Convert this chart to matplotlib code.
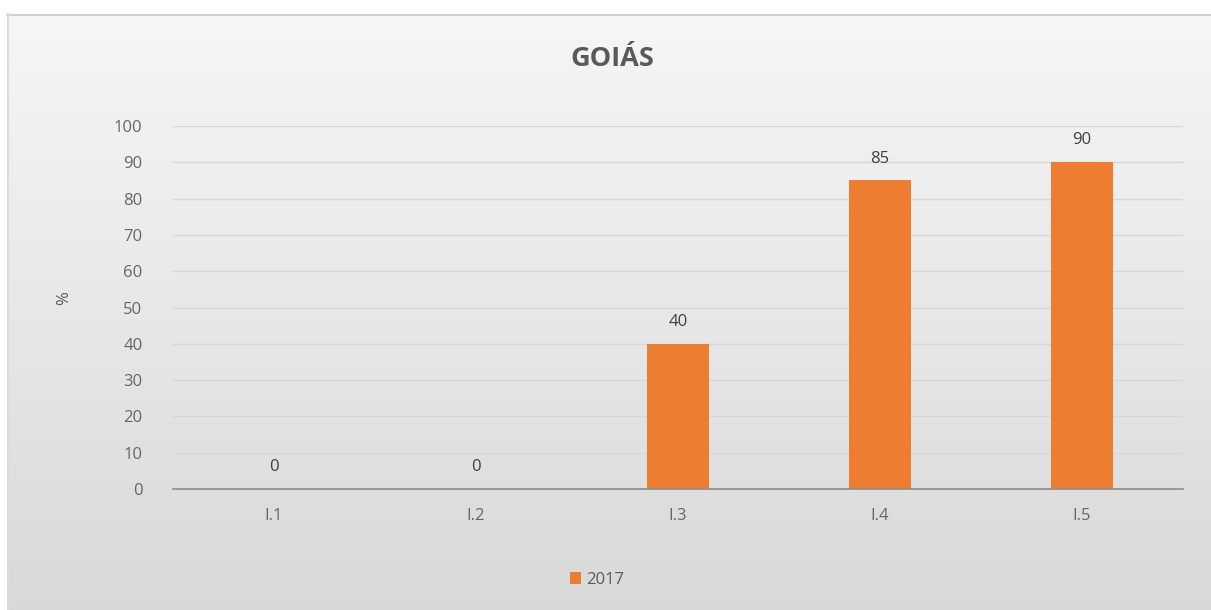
import numpy as np
import matplotlib
matplotlib.use("Agg")
import matplotlib.pyplot as plt
from matplotlib.patches import Patch

categories = ["I.1", "I.2", "I.3", "I.4", "I.5"]
values_2017 = [0, 0, 40, 85, 90]
yticks = [0, 10, 20, 30, 40, 50, 60, 70, 80, 90, 100]
title = "GOIÁS"
series_name = "2017"

plt.rcParams['font.family'] = ['Open Sans', 'DejaVu Sans']

W, H = 1211, 610
fig = plt.figure(figsize=(W / 100, H / 100), dpi=100)
fig.patch.set_facecolor("white")

# chart area background with vertical gradient (light at top, darker at bottom)
bg = fig.add_axes([7 / W, 0, 1 - 7 / W, (H - 14) / H], zorder=0)
grad = np.linspace(0, 1, 256).reshape(-1, 1)
top = np.array([0.965, 0.965, 0.965])
bot = np.array([0.85, 0.85, 0.85])
img = top[None, None, :] * (1 - grad[:, :, None]) + bot[None, None, :] * grad[:, :, None]
bg.imshow(img, aspect="auto", extent=[0, 1, 0, 1], origin="upper")
bg.set_xlim(0, 1)
bg.set_ylim(0, 1)
bg.axis("off")
bg.plot([0, 1], [0.998, 0.998], color="#d0d0d0", lw=1.5, transform=bg.transAxes, clip_on=False)
bg.plot([0.001, 0.001], [0, 1], color="#dcdcdc", lw=1.5, transform=bg.transAxes, clip_on=False)

ax = fig.add_axes([173 / W, (H - 489) / H, (1183 - 173) / W, (489 - 126) / H], zorder=1)
ax.patch.set_alpha(0)
x = np.arange(len(categories))
bars = ax.bar(x, values_2017, width=0.31, color="#ED7D31", zorder=3, label=series_name)
ax.set_xlim(-0.5, len(categories) - 0.5)
ax.set_ylim(0, 100)
ax.set_yticks(yticks)
ax.set_xticks(x)
ax.set_xticklabels(categories)
ax.yaxis.grid(True, color="#d6d6d6", lw=1, zorder=0)
ax.set_axisbelow(True)
for s in ["top", "right", "left"]:
    ax.spines[s].set_visible(False)
ax.spines["bottom"].set_color("#8c8c8c")
ax.spines["bottom"].set_linewidth(1.2)
ax.spines["bottom"].set_zorder(4)
ax.tick_params(axis="both", length=0, labelsize=12, colors="#666666")
ax.tick_params(axis="y", pad=22)
ax.tick_params(axis="x", pad=14)

for xi, v in zip(x, values_2017):
    ax.annotate(f"{v}", (xi, v), xytext=(0, 10), textcoords="offset points",
                ha="center", va="bottom", fontsize=12, color="#404040")

ax.set_ylabel("%", fontsize=12, color="#595959")
ax.yaxis.set_label_coords(-0.10, 0.526)

fig.text(612 / W, 1 - 59 / H, title, ha="center", va="center", fontsize=19.5,
         fontweight="bold", color="#595959")

leg = fig.legend(handles=[Patch(facecolor="#ED7D31", label=series_name)],
                 loc="center", bbox_to_anchor=(597 / W, 1 - 580 / H), frameon=False,
                 fontsize=12, handlelength=0.7, handleheight=0.7, handletextpad=0.3)
for t in leg.get_texts():
    t.set_color("#595959")

fig.savefig("out.png", dpi=100, facecolor="white")
